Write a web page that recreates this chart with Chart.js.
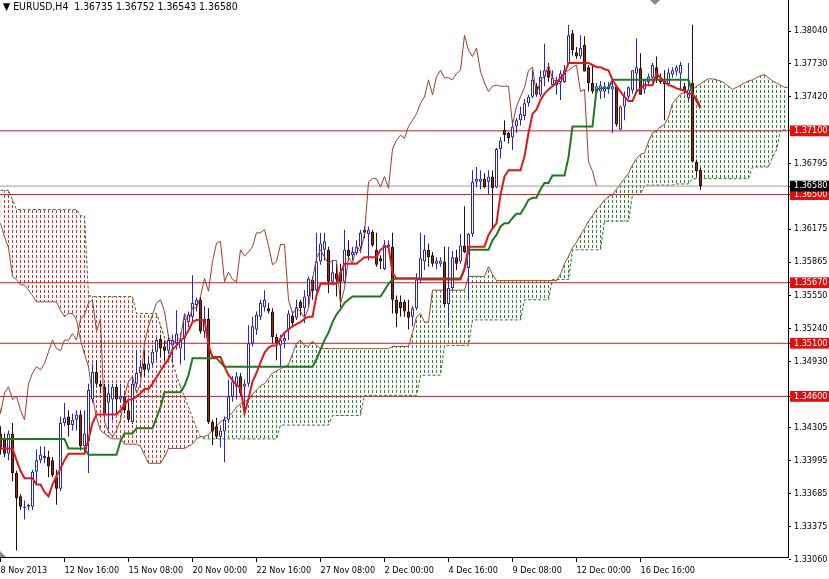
<!DOCTYPE html>
<html>
<head>
<meta charset="utf-8">
<title>EURUSD H4</title>
<script src="https://cdn.jsdelivr.net/npm/chart.js@4.4.1/dist/chart.umd.min.js"></script>
<style>
  html, body { margin: 0; padding: 0; background: #fff; }
  #box { position: relative; width: 829px; height: 579px; overflow: hidden; }
  #head { position: absolute; left: 3px; top: 0px; font-family: "DejaVu Sans Condensed", "DejaVu Sans", sans-serif; font-size: 10px; line-height: 13px; color: #000; white-space: pre; }
  #shift { position: absolute; left: 650px; top: 0; width: 0; height: 0; border-left: 5px solid transparent; border-right: 5px solid transparent; border-top: 5px solid #8a8a8a; }
  #corner { position: absolute; left: 0; top: 551px; width: 0; height: 0; border-top: 6px solid transparent; border-left: 6px solid #8a8a8a; }
</style>
</head>
<body>
<div id="box">
  <canvas id="chart" width="829" height="579"></canvas>
  <div id="head">▼ EURUSD,H4  1.36735 1.36752 1.36543 1.36580</div>
  <div id="shift"></div>
  <div id="corner"></div>
</div>
<script>
// H4 candles, bar 0 = 8 Nov 2013 00:00
const opens = [
  1.3425,1.3419,1.3406,1.3425,1.3388,1.3366,1.3355,1.3356,1.3356,1.3389,
  1.3400,1.3402,1.3403,1.3400,1.3384,1.3373,1.3435,1.3441,1.3433,1.3438,
  1.3443,1.3413,1.3418,1.3457,1.3483,1.3472,1.3469,1.3454,1.3457,1.3469,
  1.3457,1.3460,1.3447,1.3436,1.3472,1.3482,1.3491,1.3485,1.3491,1.3502,
  1.3514,1.3507,1.3503,1.3508,1.3510,1.3505,1.3515,1.3530,1.3535,1.3546,
  1.3551,1.3521,1.3533,1.3436,1.3432,1.3422,1.3427,1.3438,1.3460,1.3469,
  1.3479,1.3469,1.3472,1.3510,1.3523,1.3535,1.3544,1.3543,1.3540,1.3516,
  1.3508,1.3512,1.3523,1.3536,1.3534,1.3549,1.3543,1.3554,1.3570,1.3560,
  1.3587,1.3598,1.3598,1.3568,1.3576,1.3577,1.3568,1.3598,1.3593,1.3595,
  1.3601,1.3617,1.3613,1.3615,1.3598,1.3590,1.3580,1.3601,1.3601,1.3551,
  1.3549,1.3549,1.3540,1.3535,1.3543,1.3570,1.3587,1.3598,1.3593,1.3585,
  1.3585,1.3587,1.3547,1.3562,1.3591,1.3587,1.3602,1.3581,1.3613,1.3662,
  1.3662,1.3665,1.3662,1.3667,1.3657,1.3693,1.3711,1.3708,1.3704,1.3714,
  1.3720,1.3724,1.3736,1.3742,1.3752,1.3744,1.3761,1.3767,1.3753,1.3753,
  1.3756,1.3756,1.3774,1.3802,1.3784,1.3780,1.3791,1.3770,1.3755,1.3746,
  1.3747,1.3747,1.3749,1.3749,1.3752,1.3711,1.3733,1.3742,1.3748,1.3764,
  1.3769,1.3749,1.3756,1.3760,1.3770,1.3759,1.3757,1.3754,1.3763,1.3766,
  1.3764,1.3752,1.3741,1.3755,1.3681,1.36735
];
const highs = [
  1.3432,1.3425,1.3428,1.3435,1.3390,1.3368,1.3362,1.3359,1.3391,1.3410,
  1.3413,1.3413,1.3409,1.3403,1.3391,1.3441,1.3454,1.3447,1.3444,1.3447,
  1.3447,1.3447,1.3472,1.3491,1.3494,1.3475,1.3472,1.3472,1.3472,1.3472,
  1.3472,1.3463,1.3454,1.3478,1.3504,1.3494,1.3504,1.3497,1.3505,1.3515,
  1.3518,1.3512,1.3518,1.3518,1.3541,1.3520,1.3538,1.3540,1.3574,1.3553,
  1.3554,1.3545,1.3543,1.3438,1.3440,1.3431,1.3441,1.3476,1.3479,1.3483,
  1.3482,1.3476,1.3527,1.3535,1.3540,1.3551,1.3560,1.3548,1.3543,1.3519,
  1.3518,1.3520,1.3541,1.3540,1.3551,1.3551,1.3560,1.3573,1.3573,1.3614,
  1.3614,1.3614,1.3601,1.3588,1.3585,1.3585,1.3617,1.3607,1.3601,1.3607,
  1.3617,1.3620,1.3620,1.3617,1.3614,1.3593,1.3607,1.3607,1.3614,1.3555,
  1.3555,1.3551,1.3551,1.3545,1.3576,1.3614,1.3612,1.3604,1.3596,1.3591,
  1.3591,1.3601,1.3601,1.3597,1.3598,1.3613,1.3639,1.3614,1.3673,1.3676,
  1.3673,1.3670,1.3673,1.3673,1.3694,1.3704,1.3720,1.3709,1.3720,1.3722,
  1.3733,1.3740,1.3744,1.3767,1.3755,1.3767,1.3792,1.3774,1.3767,1.3761,
  1.3767,1.3772,1.3810,1.3805,1.3789,1.3800,1.3799,1.3772,1.3772,1.3755,
  1.3757,1.3756,1.3756,1.3757,1.3753,1.3734,1.3747,1.3752,1.3767,1.3797,
  1.3783,1.3758,1.3764,1.3774,1.3780,1.3764,1.3767,1.3769,1.3770,1.3772,
  1.3775,1.3755,1.3774,1.3810,1.3683,1.36752
];
const lows = [
  1.3405,1.3403,1.3400,1.3380,1.3315,1.3353,1.3344,1.3353,1.3353,1.3378,
  1.3397,1.3397,1.3384,1.3384,1.3358,1.3371,1.3432,1.3422,1.3428,1.3428,
  1.3409,1.3405,1.3388,1.3454,1.3469,1.3463,1.3444,1.3429,1.3438,1.3444,
  1.3454,1.3444,1.3436,1.3434,1.3469,1.3479,1.3479,1.3482,1.3488,1.3494,
  1.3497,1.3494,1.3500,1.3491,1.3504,1.3490,1.3494,1.3525,1.3529,1.3540,
  1.3519,1.3515,1.3434,1.3414,1.3420,1.3412,1.3398,1.3436,1.3455,1.3457,
  1.3460,1.3445,1.3469,1.3507,1.3518,1.3532,1.3540,1.3538,1.3510,1.3494,
  1.3488,1.3505,1.3513,1.3525,1.3532,1.3536,1.3529,1.3543,1.3551,1.3558,
  1.3584,1.3588,1.3557,1.3565,1.3554,1.3544,1.3566,1.3588,1.3588,1.3593,
  1.3595,1.3609,1.3588,1.3601,1.3582,1.3580,1.3579,1.3598,1.3538,1.3525,
  1.3535,1.3535,1.3523,1.3526,1.3541,1.3567,1.3579,1.3582,1.3582,1.3580,
  1.3582,1.3544,1.3525,1.3560,1.3579,1.3585,1.3595,1.3551,1.3610,1.3657,
  1.3655,1.3656,1.3650,1.3618,1.3656,1.3684,1.3700,1.3698,1.3692,1.3708,
  1.3715,1.3720,1.3733,1.3741,1.3742,1.3742,1.3752,1.3756,1.3752,1.3744,
  1.3739,1.3755,1.3772,1.3781,1.3778,1.3778,1.3766,1.3747,1.3745,1.3744,
  1.3740,1.3741,1.3745,1.3708,1.3714,1.3711,1.3720,1.3740,1.3745,1.3745,
  1.3744,1.3745,1.3752,1.3756,1.3755,1.3754,1.3720,1.3752,1.3760,1.3762,
  1.3748,1.3745,1.3738,1.3681,1.3667,1.36543
];
const closes = [
  1.3412,1.3406,1.3425,1.3388,1.3364,1.3356,1.3356,1.3358,1.3389,1.3400,
  1.3405,1.3404,1.3394,1.3386,1.3373,1.3435,1.3440,1.3433,1.3438,1.3443,
  1.3413,1.3425,1.3466,1.3483,1.3472,1.3469,1.3444,1.3463,1.3469,1.3457,
  1.3460,1.3447,1.3438,1.3472,1.3482,1.3488,1.3485,1.3491,1.3502,1.3513,
  1.3505,1.3503,1.3513,1.3513,1.3519,1.3513,1.3533,1.3537,1.3548,1.3551,
  1.3521,1.3533,1.3436,1.3427,1.3422,1.3428,1.3438,1.3460,1.3474,1.3479,
  1.3463,1.3472,1.3510,1.3526,1.3537,1.3548,1.3551,1.3540,1.3516,1.3510,
  1.3513,1.3515,1.3538,1.3529,1.3544,1.3543,1.3554,1.3571,1.3559,1.3587,
  1.3604,1.3606,1.3568,1.3577,1.3570,1.3568,1.3598,1.3592,1.3596,1.3601,
  1.3614,1.3614,1.3617,1.3602,1.3584,1.3587,1.3603,1.3603,1.3551,1.3538,
  1.3543,1.3540,1.3534,1.3543,1.3570,1.3590,1.3598,1.3591,1.3585,1.3588,
  1.3588,1.3547,1.3562,1.3591,1.3585,1.3602,1.3596,1.3613,1.3662,1.3665,
  1.3665,1.3657,1.3667,1.3656,1.3693,1.3701,1.3706,1.3703,1.3714,1.3720,
  1.3726,1.3736,1.3742,1.3758,1.3744,1.3761,1.3767,1.3760,1.3760,1.3758,
  1.3764,1.3767,1.3800,1.3786,1.3780,1.3788,1.3766,1.3755,1.3747,1.3752,
  1.3753,1.3752,1.3752,1.3752,1.3716,1.3733,1.3742,1.3751,1.3767,1.3770,
  1.3744,1.3758,1.3761,1.3772,1.3759,1.3756,1.3754,1.3765,1.3767,1.3770,
  1.3772,1.3747,1.3749,1.3681,1.3672,1.36580
];

// Ichimoku lines
const tenkan = [
  1.3411,1.3411,1.3411,1.3411,1.3400,1.3390,1.3383,1.3383,1.3383,1.3377,
  1.3377,1.3370,1.3366,1.3377,1.3385,1.3392,1.3400,1.3406,1.3406,1.3406,
  1.3406,1.3406,1.3420,1.3435,1.3443,1.3443,1.3443,1.3443,1.3443,1.3443,
  1.3447,1.3452,1.3457,1.3457,1.3460,1.3463,1.3467,1.3467,1.3472,1.3478,
  1.3484,1.3490,1.3495,1.3504,1.3508,1.3512,1.3516,1.3522,1.3530,1.3532,
  1.3532,1.3532,1.3508,1.3497,1.3497,1.3497,1.3488,1.3480,1.3475,1.3471,
  1.3468,1.3444,1.3458,1.3474,1.3482,1.3492,1.3501,1.3506,1.3508,1.3508,
  1.3515,1.3520,1.3523,1.3526,1.3528,1.3530,1.3533,1.3535,1.3535,1.3555,
  1.3566,1.3566,1.3566,1.3566,1.3566,1.3576,1.3585,1.3585,1.3585,1.3585,
  1.3588,1.3591,1.3591,1.3591,1.3591,1.3598,1.3601,1.3601,1.3576,1.3571,
  1.3571,1.3571,1.3571,1.3571,1.3571,1.3570,1.3570,1.3570,1.3570,1.3570,
  1.3570,1.3570,1.3570,1.3570,1.3570,1.3570,1.3580,1.3601,1.3601,1.3601,
  1.3601,1.3601,1.3612,1.3618,1.3623,1.3650,1.3667,1.3673,1.3673,1.3673,
  1.3673,1.3686,1.3708,1.3726,1.3730,1.3739,1.3745,1.3749,1.3752,1.3755,
  1.3760,1.3764,1.3774,1.3774,1.3774,1.3774,1.3774,1.3774,1.3772,1.3770,
  1.3770,1.3768,1.3767,1.3758,1.3752,1.3747,1.3742,1.3738,1.3738,1.3747,
  1.3750,1.3753,1.3753,1.3753,1.3764,1.3760,1.3756,1.3753,1.3752,1.3750,
  1.3749,1.3748,1.3745,1.3745,1.3740,1.3732
];
const kijun = [
  1.3420,1.3420,1.3420,1.3420,1.3420,1.3420,1.3420,1.3420,1.3420,1.3420,
  1.3420,1.3420,1.3420,1.3420,1.3420,1.3420,1.3420,1.3411,1.3411,1.3411,
  1.3411,1.3411,1.3405,1.3405,1.3405,1.3405,1.3405,1.3405,1.3405,1.3405,
  1.3418,1.3425,1.3425,1.3425,1.3430,1.3430,1.3430,1.3430,1.3430,1.3440,
  1.3450,1.3464,1.3464,1.3464,1.3464,1.3464,1.3470,1.3480,1.3496,1.3496,
  1.3496,1.3496,1.3496,1.3496,1.3496,1.3492,1.3488,1.3488,1.3488,1.3488,
  1.3488,1.3488,1.3488,1.3488,1.3488,1.3488,1.3488,1.3488,1.3488,1.3488,
  1.3488,1.3488,1.3488,1.3488,1.3488,1.3488,1.3488,1.3488,1.3488,1.3495,
  1.3504,1.3513,1.3520,1.3530,1.3537,1.3542,1.3548,1.3551,1.3554,1.3554,
  1.3554,1.3554,1.3554,1.3554,1.3554,1.3554,1.3560,1.3566,1.3570,1.3571,
  1.3571,1.3571,1.3571,1.3571,1.3571,1.3571,1.3571,1.3571,1.3571,1.3571,
  1.3571,1.3571,1.3571,1.3571,1.3571,1.3571,1.3580,1.3598,1.3598,1.3598,
  1.3598,1.3598,1.3598,1.3607,1.3612,1.3620,1.3623,1.3623,1.3628,1.3632,
  1.3632,1.3638,1.3645,1.3647,1.3647,1.3655,1.3661,1.3661,1.3668,1.3668,
  1.3668,1.3668,1.3685,1.3714,1.3714,1.3714,1.3714,1.3714,1.3714,1.3749,
  1.3750,1.3750,1.3750,1.3758,1.3758,1.3758,1.3758,1.3758,1.3758,1.3758,
  1.3758,1.3758,1.3758,1.3758,1.3758,1.3758,1.3758,1.3758,1.3758,1.3758,
  1.3758,1.3758,1.3758,1.3745,1.3738,1.3731
];
// cloud edges, 26 bars ahead of the last candle
const spanA = [
  1.3623,1.3610,1.3600,1.3573,1.3570,1.3565,1.3565,1.3560,1.3555,1.3549,
  1.3549,1.3549,1.3549,1.3549,1.3549,1.3541,1.3535,1.3538,1.3538,1.3532,
  1.3513,1.3500,1.3488,1.3460,1.3440,1.3428,1.3425,1.3422,1.3420,1.3420,
  1.3420,1.3415,1.3415,1.3415,1.3415,1.3413,1.3405,1.3397,1.3397,1.3397,
  1.3397,1.3403,1.3411,1.3411,1.3411,1.3411,1.3411,1.3413,1.3415,1.3420,
  1.3422,1.3422,1.3424,1.3428,1.3432,1.3436,1.3439,1.3441,1.3445,1.3450,
  1.3453,1.3455,1.3457,1.3462,1.3466,1.3470,1.3472,1.3477,1.3482,1.3484,
  1.3486,1.3488,1.3490,1.3500,1.3510,1.3513,1.3508,1.3507,1.3512,1.3508,
  1.3505,1.3505,1.3505,1.3505,1.3505,1.3505,1.3505,1.3505,1.3505,1.3505,
  1.3505,1.3505,1.3505,1.3505,1.3505,1.3505,1.3505,1.3505,1.3507,1.3507,
  1.3507,1.3507,1.3507,1.3520,1.3535,1.3538,1.3530,1.3530,1.3560,1.3560,
  1.3560,1.3560,1.3560,1.3560,1.3560,1.3560,1.3560,1.3573,1.3573,1.3573,
  1.3573,1.3573,1.3582,1.3575,1.3569,1.3569,1.3569,1.3569,1.3569,1.3569,
  1.3569,1.3569,1.3569,1.3569,1.3569,1.3569,1.3569,1.3569,1.3569,1.3569,
  1.3575,1.3585,1.3592,1.3600,1.3605,1.3612,1.3618,1.3625,1.3630,1.3636,
  1.3640,1.3645,1.3648,1.3650,1.3655,1.3660,1.3665,1.3670,1.3678,1.3684,
  1.3688,1.3689,1.3700,1.3708,1.3710,1.3714,1.3716,1.3723,1.3736,1.3740,
  1.3745,1.3746,1.3747,1.3749,1.3752,1.3754,1.3757,1.3759,1.3759,1.3758,
  1.3757,1.3755,1.3752,1.3749,1.3751,1.3753,1.3755,1.3757,1.3758,1.3760,
  1.3762,1.3763,1.3760,1.3757,1.3755,1.3753,1.3751,1.3751
];
const spanB = [
  1.3654,1.3654,1.3654,1.3645,1.3636,1.3636,1.3636,1.3636,1.3636,1.3636,
  1.3636,1.3636,1.3636,1.3636,1.3636,1.3636,1.3636,1.3636,1.3636,1.3636,
  1.3630,1.3630,1.3555,1.3554,1.3554,1.3554,1.3554,1.3554,1.3554,1.3554,
  1.3554,1.3554,1.3554,1.3554,1.3538,1.3538,1.3538,1.3538,1.3538,1.3538,
  1.3527,1.3515,1.3503,1.3492,1.3480,1.3469,1.3460,1.3450,1.3440,1.3430,
  1.3422,1.3420,1.3420,1.3420,1.3420,1.3420,1.3420,1.3420,1.3420,1.3420,
  1.3420,1.3420,1.3420,1.3420,1.3420,1.3420,1.3420,1.3420,1.3420,1.3420,
  1.3433,1.3433,1.3433,1.3433,1.3433,1.3433,1.3433,1.3433,1.3433,1.3433,
  1.3433,1.3433,1.3433,1.3442,1.3442,1.3442,1.3442,1.3442,1.3442,1.3442,
  1.3442,1.3461,1.3461,1.3461,1.3461,1.3461,1.3461,1.3461,1.3461,1.3461,
  1.3461,1.3461,1.3461,1.3461,1.3461,1.3480,1.3480,1.3480,1.3480,1.3480,
  1.3480,1.3508,1.3508,1.3508,1.3508,1.3508,1.3508,1.3508,1.3532,1.3532,
  1.3532,1.3532,1.3532,1.3532,1.3532,1.3532,1.3532,1.3532,1.3532,1.3532,
  1.3532,1.3551,1.3551,1.3551,1.3551,1.3551,1.3551,1.3551,1.3570,1.3570,
  1.3570,1.3570,1.3570,1.3598,1.3598,1.3598,1.3598,1.3598,1.3598,1.3598,
  1.3598,1.3625,1.3625,1.3625,1.3625,1.3625,1.3625,1.3625,1.3650,1.3650,
  1.3650,1.3659,1.3659,1.3659,1.3659,1.3659,1.3659,1.3659,1.3659,1.3660,
  1.3660,1.3660,1.3660,1.3665,1.3665,1.3665,1.3665,1.3665,1.3665,1.3665,
  1.3665,1.3665,1.3665,1.3665,1.3665,1.3665,1.3665,1.3665,1.3676,1.3676,
  1.3676,1.3676,1.3676,1.3685,1.3692,1.3711,1.3711,1.3711
];
const chikouShift = 26;

const levels = [1.3710, 1.3650, 1.3567, 1.3510, 1.3460];
const lastPrice = 1.3658;
const yTicks = [1.38040, 1.37730, 1.37420, 1.36795, 1.36175, 1.35865, 1.35550,
  1.35240, 1.34930, 1.34305, 1.33995, 1.33685, 1.33375, 1.33060];
const xTickBars = [0, 16, 32, 48, 64, 80, 96, 112, 128, 144, 160];
const xTickLabels = ["8 Nov 2013", "12 Nov 16:00", "15 Nov 08:00", "20 Nov 00:00",
  "22 Nov 16:00", "27 Nov 08:00", "2 Dec 00:00", "4 Dec 16:00", "9 Dec 08:00",
  "12 Dec 00:00", "16 Dec 16:00"];

const xMin = -0.125, xMax = 196.875;
const yMin = 1.33088, yMax = 1.38332;

const bullLine = "#2626c8";
const bearBody = "#8c2b1c";
const bearLine = "#2a0e06";
const font = { family: '"DejaVu Sans Condensed", "DejaVu Sans", sans-serif', size: 9 };

// header line should run to x = 238 like the terminal's
const head = document.getElementById("head");
const headW = head.getBoundingClientRect().width;
if (headW > 0) head.style.fontSize = (10 * 235 / headW).toFixed(2) + "px";

const canvas = document.getElementById("chart");
const ctx = canvas.getContext("2d");

function dots(color) {
  const c = document.createElement("canvas");
  c.width = 4; c.height = 5;
  const g = c.getContext("2d");
  g.fillStyle = color;
  g.fillRect(0, 0, 1, 3);
  return ctx.createPattern(c, "repeat");
}

const isBull = i => closes[i] >= opens[i];
const pts = (arr, shift) => arr.map((v, i) => ({ x: i + shift, y: v }));
const isMarked = v => levels.includes(v) || v === lastPrice;

const lineSet = (label, arr, shift, color, width, order, extra) => Object.assign({
  type: "line", label, data: pts(arr, shift), borderColor: color, borderWidth: width,
  pointRadius: 0, tension: 0, fill: false, order
}, extra || {});

const datasets = [
  lineSet("Senkou A", spanA, 0, "#9a4632", 1, 20, {
    fill: { target: 1, above: dots("#2a8c2a"), below: dots("#d23232") }
  }),
  lineSet("Senkou B", spanB, 0, "#2f6e2f", 1, 19, { borderDash: [3, 2] })
];
levels.forEach(lv => {
  datasets.push({
    type: "line", label: "level " + lv, data: [{ x: xMin, y: lv }, { x: xMax, y: lv }],
    borderColor: "#c81e1e", borderWidth: 1, pointRadius: 0, fill: false, order: 15
  });
});
datasets.push({
  type: "line", label: "bid", data: [{ x: xMin, y: lastPrice }, { x: xMax, y: lastPrice }],
  borderColor: "#9a9a9a", borderWidth: 1, pointRadius: 0, fill: false, order: 15
});
datasets.push({
  type: "bar", label: "wicks", data: highs.map((h, i) => ({ x: i, y: [lows[i], h] })),
  barThickness: 1, grouped: false, borderWidth: 0, inflateAmount: 0,
  backgroundColor: c => isBull(c.dataIndex) ? bullLine : bearLine, order: 10
});
datasets.push({
  type: "bar", label: "bodies",
  data: opens.map((o, i) => ({ x: i, y: [Math.min(o, closes[i]), Math.max(o, closes[i])] })),
  barThickness: 3, grouped: false, borderWidth: 1, borderSkipped: false, inflateAmount: 0, minBarLength: 1,
  backgroundColor: c => isBull(c.dataIndex) ? "#ffffff" : bearBody,
  borderColor: c => isBull(c.dataIndex) ? bullLine : bearLine, order: 9
});
datasets.push(lineSet("Chikou", closes, -chikouShift, "#a03c30", 1, 4));
datasets.push(lineSet("Kijun", kijun, 0, "#1f7a1f", 2, 3));
datasets.push(lineSet("Tenkan", tenkan, 0, "#e01818", 2, 2));

new Chart(ctx, {
  type: "bar",
  data: { datasets },
  options: {
    responsive: false,
    animation: false,
    events: [],
    layout: { padding: 0 },
    plugins: { legend: { display: false }, tooltip: { enabled: false }, title: { display: false } },
    scales: {
      x: {
        type: "linear", min: xMin, max: xMax, offset: false, bounds: "data",
        afterBuildTicks: s => { s.ticks = xTickBars.map(v => ({ value: v })); },
        afterFit: s => { s.height = 22; s.paddingLeft = 0; s.paddingRight = 0; },
        ticks: {
          autoSkip: false, maxRotation: 0, minRotation: 0, align: "start", padding: 3,
          color: "#000", font, callback: (v, i) => xTickLabels[i]
        },
        grid: { display: true, offset: false, drawOnChartArea: false, drawTicks: true, tickLength: 5, color: "#000" },
        border: { display: true, color: "#000" }
      },
      y: {
        type: "linear", position: "right", min: yMin, max: yMax, bounds: "data",
        afterBuildTicks: s => { s.ticks = yTicks.concat(levels, [lastPrice]).map(v => ({ value: v })); },
        afterFit: s => { s.width = 41; s.paddingTop = 0; s.paddingBottom = 0; },
        ticks: {
          autoSkip: false, padding: 3, font,
          color: c => isMarked(c.tick.value) ? "#fff" : "#000",
          showLabelBackdrop: c => isMarked(c.tick.value),
          backdropColor: c => c.tick.value === lastPrice ? "#000" : "#e01010",
          backdropPadding: { left: 4, right: 6, top: 0, bottom: 0 },
          callback: v => v.toFixed(5)
        },
        grid: { display: true, offset: false, drawOnChartArea: false, drawTicks: true, tickLength: 3, color: "#000" },
        border: { display: true, color: "#000" }
      }
    }
  }
});
</script>
</body>
</html>
